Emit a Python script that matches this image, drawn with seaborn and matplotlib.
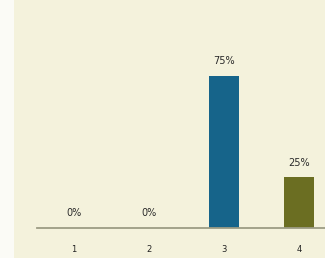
import matplotlib
matplotlib.use("Agg")
import matplotlib.pyplot as plt
from matplotlib.patches import Rectangle
import seaborn as sns
import pandas as pd

categories = ["1", "2", "3", "4"]
percents = [0, 0, 75, 25]
bar_colors = ["#16648a", "#16648a", "#16648a", "#6b6e22"]

BG = "#f4f2dc"

sns.set_style("white")
plt.rcParams['font.family'] = ['DejaVu Sans']

df = pd.DataFrame({"cat": categories, "pct": percents})

fig = plt.figure(figsize=(3.25, 2.58), dpi=100, facecolor=BG)
# white strip on the left edge
fig.patches.append(Rectangle((0, 0), 14 / 325, 1, transform=fig.transFigure,
                             facecolor="#fbfbf6", edgecolor="none", zorder=0))

ax = fig.add_axes([36.5 / 325, 30 / 258, 300 / 325, 228 / 258])
ax.set_facecolor(BG)
sns.barplot(data=df, x="cat", y="pct", hue="cat", palette=bar_colors,
            legend=False, width=0.4, ax=ax, saturation=1, linewidth=0)

ax.set_xlim(-0.5, 3.5)
ax.set_ylim(0, 112.3)

for i, v in enumerate(percents):
    ax.annotate(f"{v}%", (i, v), xytext=(0, 7), textcoords="offset points",
                ha="center", va="bottom", fontsize=7, color="#2a2a2a")

for s in ["top", "right", "left"]:
    ax.spines[s].set_visible(False)
ax.spines["bottom"].set_color("#9c9c84")
ax.spines["bottom"].set_linewidth(1.3)

ax.set_yticks([])
ax.set_xlabel("")
ax.set_ylabel("")
ax.tick_params(axis="x", length=0, pad=12, labelsize=6, labelcolor="#222222")

fig.savefig("out.png", dpi=100, facecolor=BG)
